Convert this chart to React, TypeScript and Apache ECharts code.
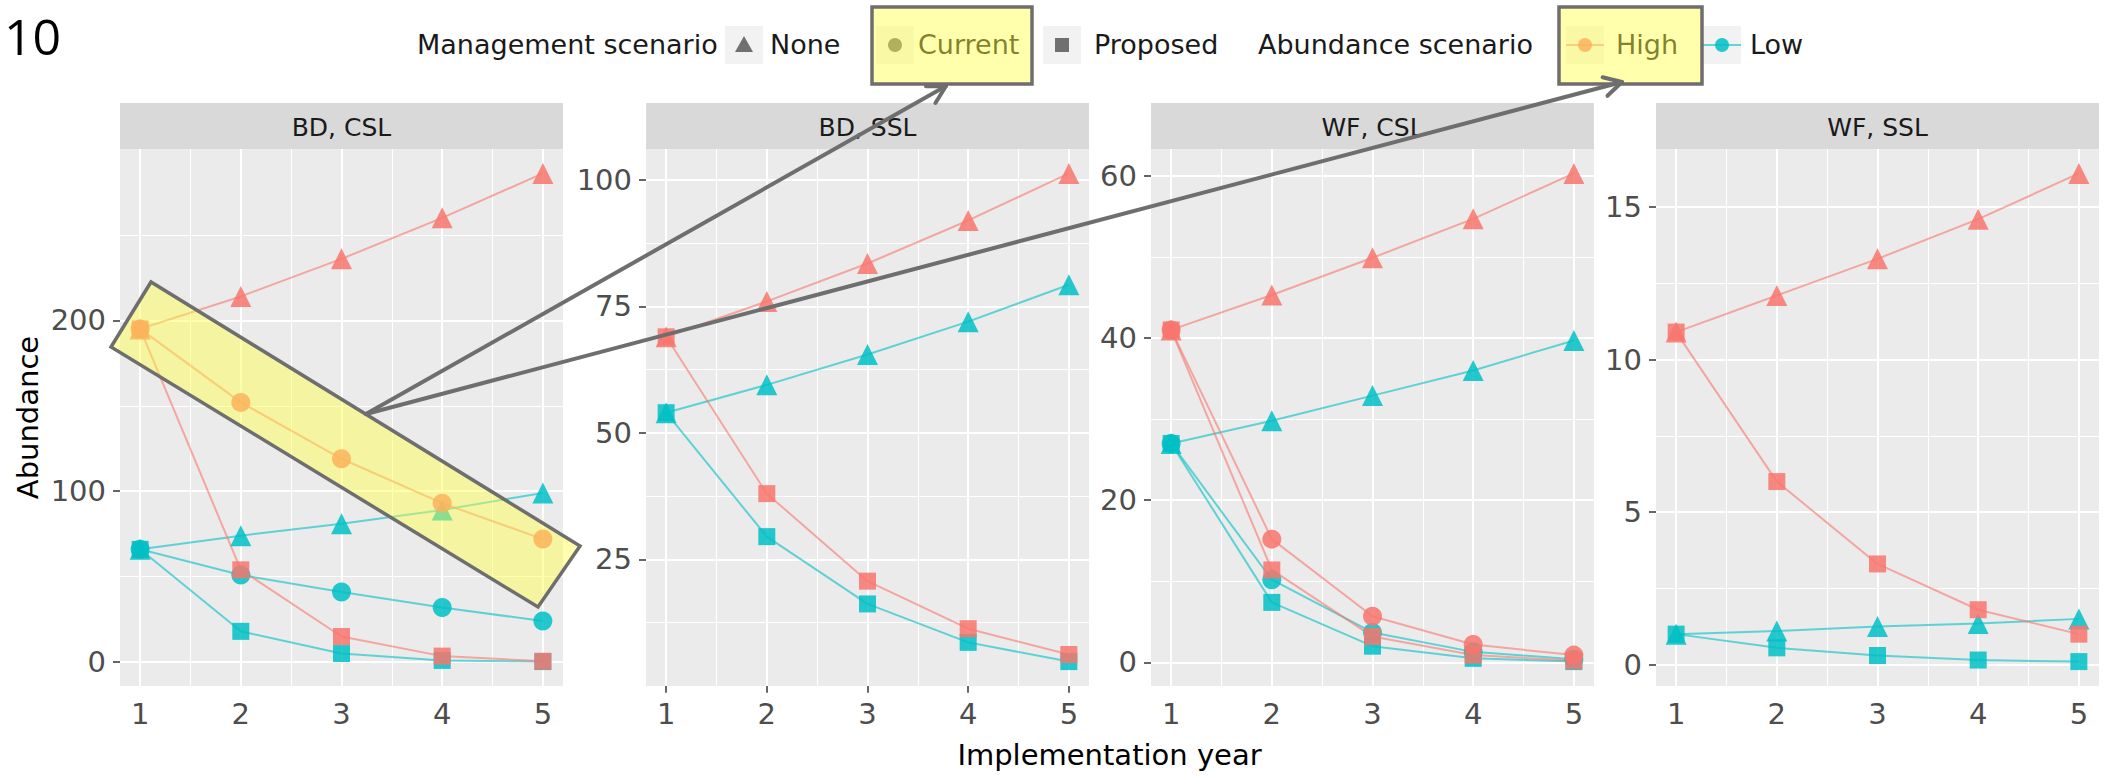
import React, { useEffect, useRef } from "react";
import * as echarts from "echarts";

// ---------------- data ----------------
const years = [1, 2, 3, 4, 5];
const panelTitles = ["BD, CSL", "BD, SSL", "WF, CSL", "WF, SSL"];
const xBreaks = [1, 2, 3, 4, 5];
const xMinor = [1.5, 2.5, 3.5, 4.5];

const bdCslHighNone = [195, 214, 236, 260, 286];
const bdCslHighCurrent = [195, 152, 119, 93, 72];
const bdCslHighProposed = [195, 54, 15, 3.5, 0.5];
const bdCslLowNone = [66, 74, 81, 89, 99];
const bdCslLowCurrent = [66, 51, 41, 32, 24];
const bdCslLowProposed = [66, 18, 5, 1, 0.3];
const bdCslYBreaks = [0, 100, 200];
const bdCslYMinor = [50, 150, 250];

const bdSslHighNone = [69, 76, 83.5, 92, 101.3];
const bdSslHighCurrent: number[] = [];
const bdSslHighProposed = [69, 38, 20.7, 11.3, 6.2];
const bdSslLowNone = [54, 59.5, 65.5, 72, 79.3];
const bdSslLowCurrent: number[] = [];
const bdSslLowProposed = [54, 29.5, 16.2, 8.6, 4.8];
const bdSslYBreaks = [25, 50, 75, 100];
const bdSslYMinor = [12.5, 37.5, 62.5, 87.5];

const wfCslHighNone = [41, 45.3, 49.9, 54.7, 60.3];
const wfCslHighCurrent = [41, 15.2, 5.7, 2.2, 0.9];
const wfCslHighProposed = [41, 11.4, 3.2, 0.9, 0.2];
const wfCslLowNone = [27, 29.8, 32.9, 36, 39.7];
const wfCslLowCurrent = [27, 10.2, 3.7, 1.3, 0.4];
const wfCslLowProposed = [27, 7.4, 2.0, 0.5, 0.1];
const wfCslYBreaks = [0, 20, 40, 60];
const wfCslYMinor = [10, 30, 50];

const wfSslHighNone = [10.9, 12.1, 13.3, 14.6, 16.1];
const wfSslHighCurrent: number[] = [];
const wfSslHighProposed = [10.9, 6.0, 3.3, 1.8, 1.0];
const wfSslLowNone = [1.0, 1.1, 1.25, 1.35, 1.5];
const wfSslLowCurrent: number[] = [];
const wfSslLowProposed = [1.0, 0.55, 0.3, 0.15, 0.1];
const wfSslYBreaks = [0, 5, 10, 15];
const wfSslYMinor = [2.5, 7.5, 12.5];

const managementLevels = ["None", "Current", "Proposed"];
const abundanceLevels = ["High", "Low"];

const panelSeries = [
  {
    High: [bdCslHighNone, bdCslHighCurrent, bdCslHighProposed],
    Low: [bdCslLowNone, bdCslLowCurrent, bdCslLowProposed],
    yBreaks: bdCslYBreaks,
    yMinor: bdCslYMinor,
  },
  {
    High: [bdSslHighNone, bdSslHighCurrent, bdSslHighProposed],
    Low: [bdSslLowNone, bdSslLowCurrent, bdSslLowProposed],
    yBreaks: bdSslYBreaks,
    yMinor: bdSslYMinor,
  },
  {
    High: [wfCslHighNone, wfCslHighCurrent, wfCslHighProposed],
    Low: [wfCslLowNone, wfCslLowCurrent, wfCslLowProposed],
    yBreaks: wfCslYBreaks,
    yMinor: wfCslYMinor,
  },
  {
    High: [wfSslHighNone, wfSslHighCurrent, wfSslHighProposed],
    Low: [wfSslLowNone, wfSslLowCurrent, wfSslLowProposed],
    yBreaks: wfSslYBreaks,
    yMinor: wfSslYMinor,
  },
];

// ---------------- styles / layout ----------------
const FONT = '"DejaVu Sans", sans-serif';
const COLORS: Record<string, string> = { High: "#F8766D", Low: "#00BFC4" };
const SYMBOLS = ["triangle", "circle", "rect"];
const SYMBOL_SIZES = [21, 19, 17];
const PANEL_LEFTS = [120, 646, 1151, 1656];
const PANEL_W = 443;
const PANEL_TOP = 149;
const PANEL_H = 537;
const STRIP_TOP = 103;
const STRIP_H = 46;
const HILITE_FILL = "rgba(255,255,70,0.45)";
const HILITE_STROKE = "#6E6E6E";

function expand(values: number[]): [number, number] {
  const mn = Math.min(...values);
  const mx = Math.max(...values);
  const pad = (mx - mn) * 0.05;
  return [mn - pad, mx + pad];
}

function arrow(x1: number, y1: number, x2: number, y2: number) {
  const dx = x2 - x1;
  const dy = y2 - y1;
  const L = Math.hypot(dx, dy);
  const cx = -dx / L;
  const cy = -dy / L;
  const len = 20;
  const a = 0.5;
  const p1 = [x2 + len * (cx * Math.cos(a) - cy * Math.sin(a)), y2 + len * (cx * Math.sin(a) + cy * Math.cos(a))];
  const p2 = [x2 + len * (cx * Math.cos(-a) - cy * Math.sin(-a)), y2 + len * (cx * Math.sin(-a) + cy * Math.cos(-a))];
  return [
    {
      type: "line",
      z: 120,
      silent: true,
      shape: { x1, y1, x2, y2 },
      style: { stroke: HILITE_STROKE, lineWidth: 4, lineCap: "round" },
    },
    {
      type: "polyline",
      z: 120,
      silent: true,
      shape: { points: [p1, [x2, y2], p2] },
      style: { stroke: HILITE_STROKE, lineWidth: 4, lineCap: "round", lineJoin: "round", fill: null },
    },
  ];
}

function text(t: string, x: number, y: number, size: number, extra: any = {}) {
  return {
    type: "text",
    x,
    y,
    silent: true,
    z: extra.z ?? 50,
    rotation: extra.rotation ?? 0,
    style: {
      text: t,
      fill: extra.fill ?? "#1A1A1A",
      fontSize: size,
      fontFamily: extra.fontFamily ?? FONT,
      align: extra.align ?? "left",
      verticalAlign: "middle",
      textAlign: extra.align ?? "left",
      textVerticalAlign: "middle",
    },
  };
}

function buildOption() {
  const grid: any[] = [];
  const xAxis: any[] = [];
  const yAxis: any[] = [];
  const series: any[] = [];
  const graphic: any[] = [];

  panelSeries.forEach((p, i) => {
    grid.push({
      left: PANEL_LEFTS[i],
      top: PANEL_TOP,
      width: PANEL_W,
      height: PANEL_H,
      show: true,
      backgroundColor: "#EBEBEB",
      borderWidth: 0,
      containLabel: false,
      outerBoundsMode: "none",
    });
    xAxis.push({
      type: "value",
      gridIndex: i,
      min: 0.8,
      max: 5.2,
      axisLine: { show: false },
      splitLine: { show: false },
      axisTick: { show: true, customValues: xBreaks, length: 7, lineStyle: { color: "#333333", width: 1.5 } },
      axisLabel: { show: true, customValues: xBreaks, margin: 13, color: "#4D4D4D", fontSize: 29, fontFamily: FONT },
    });
    const all = [...p.High.flat(), ...p.Low.flat()];
    const [ymin, ymax] = expand(all);
    yAxis.push({
      type: "value",
      gridIndex: i,
      min: ymin,
      max: ymax,
      axisLine: { show: false },
      splitLine: { show: false },
      axisTick: { show: true, customValues: p.yBreaks, length: 7, lineStyle: { color: "#333333", width: 1.5 } },
      axisLabel: { show: true, customValues: p.yBreaks, margin: 14, color: "#4D4D4D", fontSize: 29, fontFamily: FONT },
    });

    // grid lines through the library's scales
    const major = { color: "#FFFFFF", width: 2, type: "solid", opacity: 1 };
    const minor = { color: "#FFFFFF", width: 1, type: "solid", opacity: 1 };
    series.push({
      type: "line",
      xAxisIndex: i,
      yAxisIndex: i,
      data: [],
      silent: true,
      symbol: "none",
      markLine: {
        z: 1,
        silent: true,
        animation: false,
        symbol: ["none", "none"],
        label: { show: false },
        emphasis: { disabled: true },
        data: [
          ...p.yMinor.map((v) => ({ yAxis: v, lineStyle: minor })),
          ...xMinor.map((v) => ({ xAxis: v, lineStyle: minor })),
          ...p.yBreaks.map((v) => ({ yAxis: v, lineStyle: major })),
          ...xBreaks.map((v) => ({ xAxis: v, lineStyle: major })),
        ],
      },
    });

    const order = ["Low", "High"];
    // lines first
    order.forEach((ab) => {
      (p as any)[ab].forEach((vals: number[], m: number) => {
        if (!vals.length) return;
        series.push({
          type: "line",
          name: `${ab} ${managementLevels[m]}`,
          xAxisIndex: i,
          yAxisIndex: i,
          data: years.map((x, k) => [x, vals[k]]),
          symbol: "none",
          showSymbol: false,
          silent: true,
          z: 2,
          lineStyle: { color: COLORS[ab], width: 2, opacity: 0.6 },
        });
      });
    });
    // points
    order.forEach((ab) => {
      (p as any)[ab].forEach((vals: number[], m: number) => {
        if (!vals.length) return;
        series.push({
          type: "scatter",
          name: `${ab} ${managementLevels[m]}`,
          xAxisIndex: i,
          yAxisIndex: i,
          data: years.map((x, k) => [x, vals[k]]),
          symbol: SYMBOLS[m],
          symbolSize: SYMBOL_SIZES[m],
          silent: true,
          z: 3,
          itemStyle: { color: COLORS[ab], opacity: 0.85 },
        });
      });
    });

    // strip
    graphic.push({
      type: "rect",
      silent: true,
      z: 10,
      shape: { x: PANEL_LEFTS[i], y: STRIP_TOP, width: PANEL_W, height: STRIP_H },
      style: { fill: "#D9D9D9" },
    });
    graphic.push(text(panelTitles[i], PANEL_LEFTS[i] + PANEL_W / 2, STRIP_TOP + STRIP_H / 2 + 1, 25, { align: "center", z: 11 }));
  });

  // titles
  graphic.push(text("10", 4, 36, 50, { fontFamily: '"Open Sans", sans-serif', fill: "#000000" }));
  graphic.push(text("Implementation year", (PANEL_LEFTS[0] + PANEL_LEFTS[3] + PANEL_W) / 2, 755, 29, { align: "center", fill: "#000000" }));
  graphic.push(text("Abundance", 28, PANEL_TOP + PANEL_H / 2, 29, { align: "center", fill: "#000000", rotation: Math.PI / 2 }));

  // legend
  const LY = 44;
  const keyBg = (cx: number) => ({
    type: "rect",
    silent: true,
    z: 50,
    shape: { x: cx - 19, y: LY - 18, width: 38, height: 38 },
    style: { fill: "#F2F2F2" },
  });
  graphic.push(text("Management scenario", 417, LY, 27));
  graphic.push(keyBg(744));
  graphic.push({
    type: "polygon",
    silent: true,
    z: 51,
    shape: { points: [[744, LY - 8], [753, LY + 8], [735, LY + 8]] },
    style: { fill: "#595959", opacity: 0.85 },
  });
  graphic.push(text(managementLevels[0], 770, LY, 27));
  graphic.push(keyBg(895));
  graphic.push({ type: "circle", silent: true, z: 51, shape: { cx: 895, cy: LY + 1, r: 7 }, style: { fill: "#595959", opacity: 0.85 } });
  graphic.push(text(managementLevels[1], 918, LY, 27));
  graphic.push(keyBg(1062));
  graphic.push({ type: "rect", silent: true, z: 51, shape: { x: 1055, y: LY - 6, width: 14, height: 14 }, style: { fill: "#595959", opacity: 0.85 } });
  graphic.push(text(managementLevels[2], 1094, LY, 27));

  graphic.push(text("Abundance scenario", 1258, LY, 27));
  [
    [abundanceLevels[0], 1585, 1616],
    [abundanceLevels[1], 1722, 1750],
  ].forEach(([lab, cx, tx]: any) => {
    graphic.push(keyBg(cx));
    graphic.push({
      type: "line",
      silent: true,
      z: 51,
      shape: { x1: cx - 19, y1: LY + 1, x2: cx + 19, y2: LY + 1 },
      style: { stroke: COLORS[lab], lineWidth: 2, opacity: 0.6 },
    });
    graphic.push({ type: "circle", silent: true, z: 52, shape: { cx, cy: LY + 1, r: 7 }, style: { fill: COLORS[lab], opacity: 0.85 } });
    graphic.push(text(lab, tx, LY, 27));
  });

  // highlight annotations
  graphic.push({
    type: "rect",
    silent: true,
    z: 110,
    shape: { x: 872, y: 7, width: 160, height: 77 },
    style: { fill: HILITE_FILL, stroke: HILITE_STROKE, lineWidth: 3.5 },
  });
  graphic.push({
    type: "rect",
    silent: true,
    z: 110,
    shape: { x: 1559, y: 7, width: 143, height: 77 },
    style: { fill: HILITE_FILL, stroke: HILITE_STROKE, lineWidth: 3.5 },
  });
  graphic.push({
    type: "polygon",
    silent: true,
    z: 110,
    shape: { points: [[111, 347], [151, 282], [580, 546], [538, 607]] },
    style: { fill: HILITE_FILL, stroke: HILITE_STROKE, lineWidth: 3.5, lineJoin: "miter" },
  });
  graphic.push(...arrow(366, 414, 946, 86));
  graphic.push(...arrow(366, 414, 1622, 82));

  return {
    animation: false,
    backgroundColor: "#FFFFFF",
    grid,
    xAxis,
    yAxis,
    series,
    graphic: { elements: graphic },
  };
}

export default function App() {
  const ref = useRef<HTMLDivElement>(null);
  useEffect(() => {
    const chart = echarts.init(ref.current as HTMLDivElement, null, { renderer: "svg" });
    chart.setOption(buildOption() as any);
    return () => chart.dispose();
  }, []);
  return <div ref={ref} style={{ position: "absolute", left: 0, top: 0, width: 2104, height: 776 }} />;
}
